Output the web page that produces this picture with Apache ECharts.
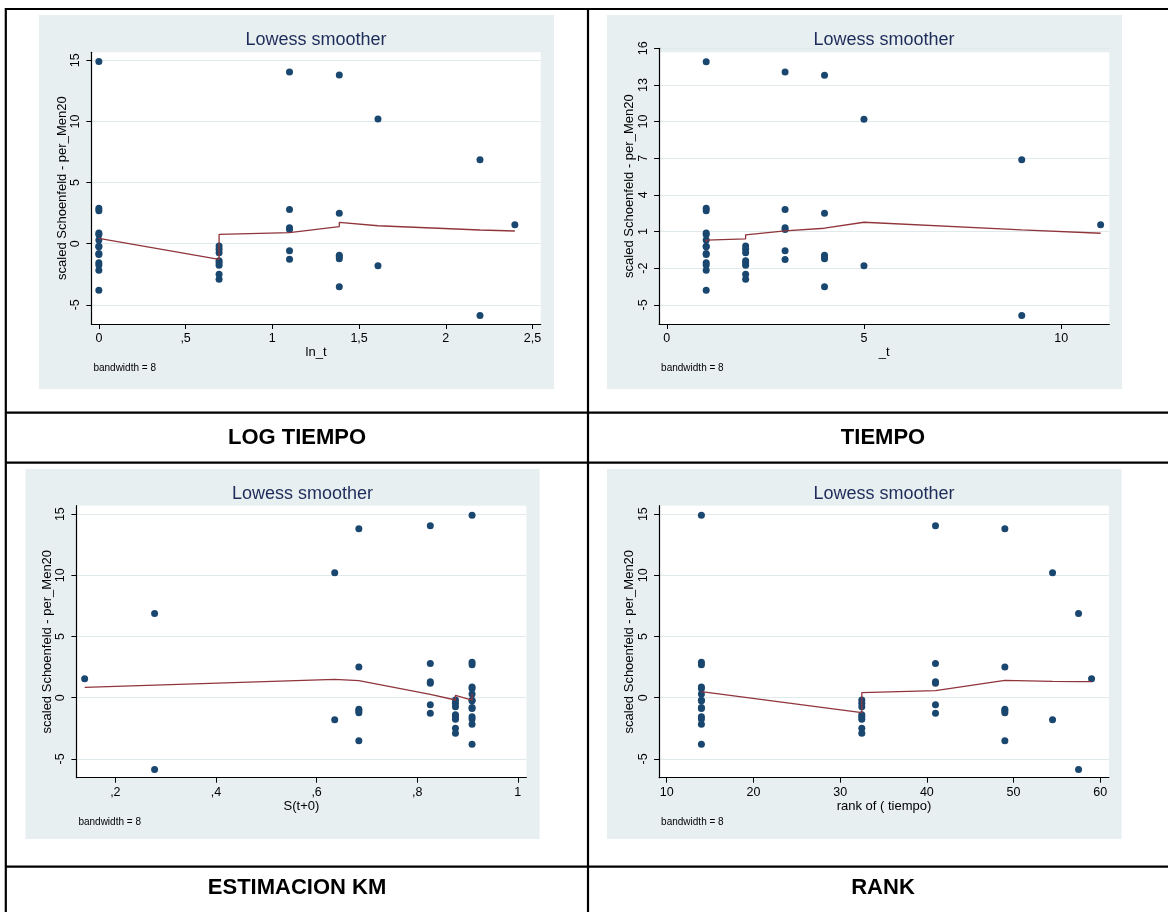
<!DOCTYPE html>
<html><head><meta charset="utf-8">
<script src="https://cdn.jsdelivr.net/npm/echarts@6/dist/echarts.min.js"></script>
<style>html,body{margin:0;padding:0;background:#fff}#c{width:1168px;height:912px}</style>
</head><body><div id="c"></div>
<script>
// ---- data ----
// _t groups
const timeT = [1, 2, 3, 4, 5, 9, 11];
const lnT = [0, 0.693, 1.099, 1.386, 1.609, 2.197, 2.398];
const kmS = [0.909, 0.876, 0.826, 0.684, 0.636, 0.278, 0.139];
const rankT = [14, 32.5, 41, 49, 54.5, 57.5, 59];
// scaled Schoenfeld residuals for each _t group
const resid = [
  [14.9, 2.9, 2.7, 0.88, 0.75, 0.3, -0.2, -0.25, -0.8, -0.88, -1.55, -1.75, -2.17, -3.8],
  [-0.19, -0.46, -0.74, -1.4, -1.55, -1.77, -2.5, -2.9],
  [14.05, 2.8, 1.3, 1.17, -0.57, -1.28],
  [13.8, 2.5, -0.95, -1.06, -1.23, -3.52],
  [10.2, -1.8],
  [6.87, -5.88],
  [1.55]
];
// lowess smoother fits
const lowessLnT = [[0,0.44],[0.693,-1.28],[0.693,0.76],[1.099,0.9],[1.386,1.39],[1.386,1.75],[1.609,1.47],[2.197,1.12],[2.398,1.04]];
const lowessT = [[1,0.13],[1,0.3],[2,0.4],[2,0.73],[3,1.05],[4,1.27],[4,1.4],[5,1.76],[9,1.14],[11,0.86]];
const lowessKM = [[0.139,0.84],[0.636,1.5],[0.684,1.39],[0.826,0.27],[0.876,-0.19],[0.876,0.19],[0.909,-0.19],[0.909,0.3]];
const lowessRank = [[14,0.49],[32.5,-1.23],[32.5,0.41],[41,0.57],[49,1.42],[49,1.55],[54.5,1.34],[57.5,1.31],[59,1.31]];
// tick labels
const yTicksA = [-5, 0, 5, 10, 15];
const yTicksB = [-5, -2, 1, 4, 7, 10, 13, 16];
const xTicksLnT = [0, 0.5, 1, 1.5, 2, 2.5];
const xTicksT = [0, 5, 10];
const xTicksKM = [0.2, 0.4, 0.6, 0.8, 1];
const xTicksRank = [10, 20, 30, 40, 50, 60];
const captions = ['LOG TIEMPO', 'TIEMPO', 'ESTIMACION KM', 'RANK'];

// ---- layout / style ----
const FONT = "'Liberation Sans', Arial, sans-serif";
const panels = [
  {xs: lnT, lowess: lowessLnT, xTicks: xTicksLnT, yTicks: yTicksA, xName: 'ln_t',
   xMin: -0.043, xMax: 2.547, yMin: -6.57, yMax: 15.66,
   grid: [91.4, 52.3, 449.3, 271.7], plot: [91.4, 52.3, 449.3, 271.7], bg: [39, 15, 515, 374],
   titleX: 316, titleY: 40, bwY: 368, cap: [297, 437.5]},
  {xs: timeT, lowess: lowessT, xTicks: xTicksT, yTicks: yTicksB, xName: '_t',
   xMin: -0.194, xMax: 11.22, yMin: -6.57, yMax: 16,
   grid: [659.1, 48.3, 450.2, 275.7], plot: [659.1, 52.3, 450.2, 271.7], bg: [607, 15, 515, 374],
   titleX: 884, titleY: 40, bwY: 368, cap: [883, 437.5]},
  {xs: kmS, lowess: lowessKM, xTicks: xTicksKM, yTicks: yTicksA, xName: 'S(t+0)',
   xMin: 0.1226, xMax: 1.017, yMin: -6.54, yMax: 15.69,
   grid: [76.4, 505.7, 450, 272], plot: [76.4, 505.7, 450, 272], bg: [25.4, 469, 514.2, 370],
   titleX: 302.5, titleY: 494, bwY: 822, cap: [297, 888]},
  {xs: rankT, lowess: lowessRank, xTicks: xTicksRank, yTicks: yTicksA, xName: 'rank of ( tiempo)',
   xMin: 9.12, xMax: 61.0, yMin: -6.54, yMax: 15.69,
   grid: [659.1, 505.7, 449.8, 272], plot: [659.1, 505.7, 449.8, 272], bg: [607, 469, 514.6, 370],
   titleX: 884, titleY: 494, bwY: 822, cap: [883, 888]}
];

function fmtDec(v) {
  let s = String(Math.round(v * 100) / 100);
  if (s.startsWith('0.')) s = s.slice(1);
  return s.replace('.', ',');
}

const grids = [], xAxes = [], yAxes = [], series = [], graphics = [];
panels.forEach((p, i) => {
  grids.push({left: p.grid[0], top: p.grid[1], width: p.grid[2], height: p.grid[3], containLabel: false});
  xAxes.push({
    gridIndex: i, type: 'value', min: p.xMin, max: p.xMax,
    name: p.xName, nameLocation: 'middle', nameGap: 21,
    nameTextStyle: {fontFamily: FONT, fontSize: 13, color: '#000'},
    axisLine: {show: true, onZero: false, lineStyle: {color: '#000', width: 1.2}},
    axisTick: {show: true, length: 5, customValues: p.xTicks, lineStyle: {color: '#000', width: 1}},
    axisLabel: {customValues: p.xTicks, formatter: fmtDec, margin: 8, fontFamily: FONT, fontSize: 12.5, color: '#000'},
    splitLine: {show: false}
  });
  yAxes.push({
    gridIndex: i, type: 'value', min: p.yMin, max: p.yMax,
    name: 'scaled Schoenfeld - per_Men20', nameLocation: 'middle', nameGap: 22, nameRotate: 90,
    nameTextStyle: {fontFamily: FONT, fontSize: 13, color: '#000'},
    axisLine: {show: true, onZero: false, lineStyle: {color: '#000', width: 1.2}},
    axisTick: {show: true, length: 5, customValues: p.yTicks, lineStyle: {color: '#000', width: 1}},
    axisLabel: {customValues: p.yTicks, rotate: 90, margin: 9, fontFamily: FONT, fontSize: 12.5, color: '#000'},
    splitLine: {show: true, lineStyle: {color: '#e0e9ec', width: 1}}
  });
  const pts = [];
  p.xs.forEach((x, g) => resid[g].forEach(y => pts.push([x, y])));
  series.push({
    type: 'scatter', xAxisIndex: i, yAxisIndex: i, data: pts, symbol: 'circle', symbolSize: 7,
    itemStyle: {color: '#1a476f', opacity: 1}, z: 3, silent: true
  });
  series.push({
    type: 'line', xAxisIndex: i, yAxisIndex: i, data: p.lowess, showSymbol: false, symbol: 'none',
    lineStyle: {color: '#90353b', width: 1.3}, z: 4, silent: true
  });
  graphics.push({type: 'rect', z: -10, silent: true,
    shape: {x: p.bg[0], y: p.bg[1], width: p.bg[2], height: p.bg[3]}, style: {fill: '#e8eff1'}});
  graphics.push({type: 'rect', z: -9, silent: true,
    shape: {x: p.plot[0], y: p.plot[1], width: p.plot[2], height: p.plot[3]}, style: {fill: '#ffffff'}});
  graphics.push({type: 'text', z: 5, silent: true, x: p.titleX, y: p.titleY,
    style: {text: 'Lowess smoother', fill: '#1e2c5a', font: '18px ' + FONT,
            textAlign: 'center', align: 'center', textVerticalAlign: 'middle', verticalAlign: 'middle'}});
  graphics.push({type: 'text', z: 5, silent: true, x: p.grid[0] + 2, y: p.bwY,
    style: {text: 'bandwidth = 8', fill: '#000', font: '10px ' + FONT,
            textAlign: 'left', align: 'left', textVerticalAlign: 'middle', verticalAlign: 'middle'}});
  graphics.push({type: 'text', z: 5, silent: true, x: p.cap[0], y: p.cap[1],
    style: {text: captions[i], fill: '#000', font: 'bold 22px ' + FONT,
            textAlign: 'center', align: 'center', textVerticalAlign: 'middle', verticalAlign: 'middle'}});
});

// table borders
const tableLines = [
  [5, 9, 1168, 9], [5.8, 8, 5.8, 912], [588, 8, 588, 912],
  [5, 412.7, 1168, 412.7], [5, 462.7, 1168, 462.7], [5, 866.7, 1168, 866.7]
];
tableLines.forEach(l => graphics.push({type: 'line', z: 20, silent: true,
  shape: {x1: l[0], y1: l[1], x2: l[2], y2: l[3]}, style: {stroke: '#000', lineWidth: 2.2}}));

const chart = echarts.init(document.getElementById('c'), null, {renderer: 'canvas'});
chart.setOption({
  animation: false,
  backgroundColor: '#ffffff',
  grid: grids, xAxis: xAxes, yAxis: yAxes, series: series,
  graphic: {elements: graphics}
});
</script></body></html>
